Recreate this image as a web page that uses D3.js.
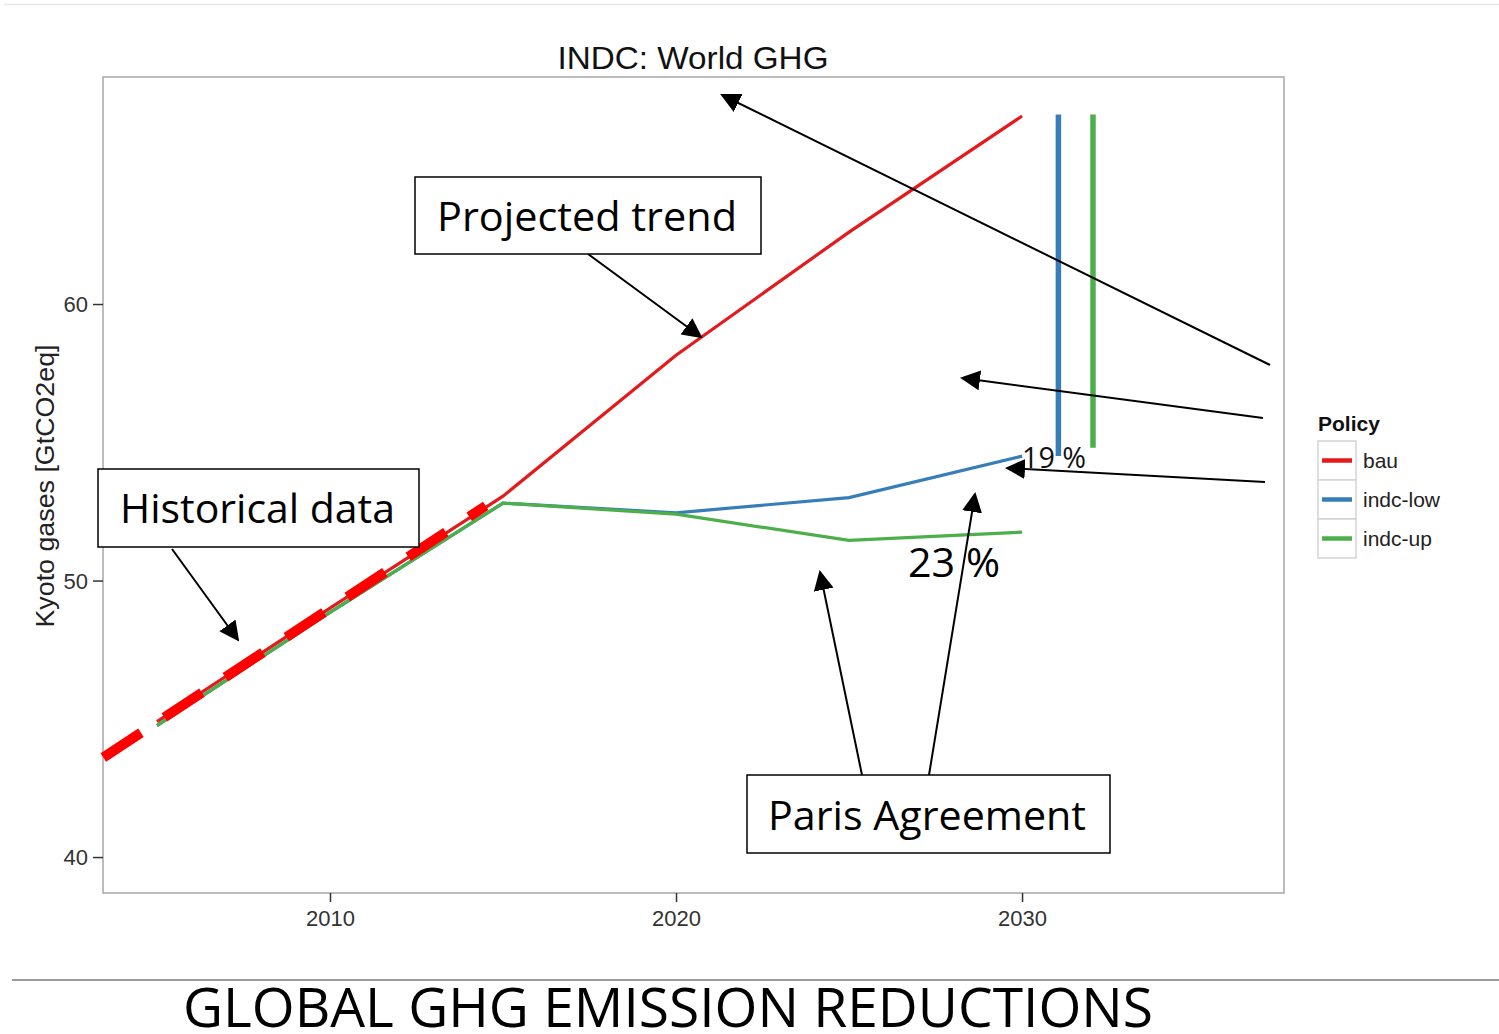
<!DOCTYPE html>
<html>
<head>
<meta charset="utf-8">
<script src="https://cdn.jsdelivr.net/npm/d3@7"></script>
<style>
  body { margin: 0; background: white; }
  svg { display: block; }
</style>
</head>
<body>
<script>
// chart values
var years = [2005, 2010, 2015, 2020, 2025, 2030];
var bau = [44.9, 49.0, 53.05, 58.15, 62.6, 66.8];
var indcLow = [44.75, 48.85, 52.8, 52.45, 53.0, 54.5];
var indcUp = [44.75, 48.85, 52.8, 52.4, 51.45, 51.75];

// the vertical range bars at the right
var rangeYears = [2031.05, 2032.05];
var rangeLow = [54.5, 54.8];
var rangeHigh = [66.85, 66.85];

// the hand-drawn dashed "historical" overlay
var histYears = [2003.45, 2014.5];
var histValues = [43.6, 52.7];

var xTicks = [2010, 2020, 2030];
var yTicks = [40, 50, 60];
var policies = ["bau", "indc-low", "indc-up"];
var colors = ["#E41A1C", "#377EB8", "#4DAF4A"];

var screen = {width: 1499, height: 1034};
var panel = {left: 103, right: 1284, top: 77, bottom: 893};

var svg = d3.select("body")
            .append("svg")
            .attr("width", screen.width)
            .attr("height", screen.height);

var x = d3.scaleLinear()
          .domain([2003.44, 2037.57])
          .range([panel.left, panel.right]);

var y = d3.scaleLinear()
          .domain([38.7, 68.21])
          .range([panel.bottom, panel.top]);

// top faint rule
svg.append("line")
   .attr("x1", 4).attr("x2", screen.width)
   .attr("y1", 4.5).attr("y2", 4.5)
   .attr("stroke", "#e6e6e6")
   .attr("stroke-width", 1.5);

// panel border
svg.append("rect")
   .attr("x", panel.left)
   .attr("y", panel.top)
   .attr("width", panel.right - panel.left)
   .attr("height", panel.bottom - panel.top)
   .attr("fill", "white")
   .attr("stroke", "#a6a6a6")
   .attr("stroke-width", 1.5);

// axes
var xAxis = d3.axisBottom(x).tickValues(xTicks).tickSize(9).tickFormat(d3.format("d"));
var yAxis = d3.axisLeft(y).tickValues(yTicks).tickSize(10);

var gx = svg.append("g")
            .attr("transform", "translate(0," + panel.bottom + ")")
            .call(xAxis);
var gy = svg.append("g")
            .attr("transform", "translate(" + panel.left + ",0)")
            .call(yAxis);

[gx, gy].forEach(function(g) {
  g.select(".domain").remove();
  g.selectAll(".tick line").attr("stroke", "#333").attr("stroke-width", 1.5);
  g.selectAll(".tick text")
   .attr("font-family", "Liberation Sans, Arial, sans-serif")
   .attr("font-size", 22)
   .attr("fill", "#333");
});
gx.selectAll(".tick text").attr("dy", "0.95em");
gy.selectAll(".tick text").attr("dy", "0.36em").attr("x", -15);

// title and y label
svg.append("text")
   .attr("x", 693).attr("y", 69)
   .attr("text-anchor", "middle")
   .attr("font-family", "Liberation Sans, Arial, sans-serif")
   .attr("font-size", 32)
   .attr("textLength", 271)
   .attr("lengthAdjust", "spacingAndGlyphs")
   .attr("fill", "#111")
   .text("INDC: World GHG");

svg.append("text")
   .attr("transform", "translate(54,486) rotate(-90)")
   .attr("text-anchor", "middle")
   .attr("font-family", "Liberation Sans, Arial, sans-serif")
   .attr("font-size", 26)
   .attr("textLength", 283)
   .attr("lengthAdjust", "spacingAndGlyphs")
   .attr("fill", "#222")
   .text("Kyoto gases [GtCO2eq]");

// series lines
var line = d3.line()
             .x(function(d) { return x(d[0]); })
             .y(function(d) { return y(d[1]); });

var series = [bau, indcLow, indcUp];
series.forEach(function(vals, i) {
  svg.append("path")
     .datum(years.map(function(yr, j) { return [yr, vals[j]]; }))
     .attr("d", line)
     .attr("fill", "none")
     .attr("stroke", colors[i])
     .attr("stroke-width", 3.2);
});

// range bars
rangeYears.forEach(function(yr, i) {
  svg.append("line")
     .attr("x1", x(yr)).attr("x2", x(yr))
     .attr("y1", y(rangeLow[i])).attr("y2", y(rangeHigh[i]))
     .attr("stroke", colors[i + 1])
     .attr("stroke-width", 5.5);
});

// dashed historical overlay
svg.append("path")
   .datum(histYears.map(function(yr, j) { return [yr, histValues[j]]; }))
   .attr("d", line)
   .attr("fill", "none")
   .attr("stroke", "#ff0000")
   .attr("stroke-width", 10)
   .attr("stroke-dasharray", "45,28");

// legend
var legend = svg.append("g").attr("transform", "translate(1318,441)");
legend.append("text")
      .attr("x", 0).attr("y", -10)
      .attr("font-family", "Liberation Sans, Arial, sans-serif")
      .attr("font-size", 21)
      .attr("font-weight", "bold")
      .attr("fill", "#111")
      .text("Policy");

policies.forEach(function(p, i) {
  var row = legend.append("g").attr("transform", "translate(0," + (i * 39) + ")");
  row.append("rect")
     .attr("x", 0).attr("y", 0)
     .attr("width", 38).attr("height", 39)
     .attr("fill", "white")
     .attr("stroke", "#d4d4d4")
     .attr("stroke-width", 1.5);
  row.append("line")
     .attr("x1", 4).attr("x2", 34)
     .attr("y1", 19.5).attr("y2", 19.5)
     .attr("stroke", colors[i])
     .attr("stroke-width", 4.5);
  row.append("text")
     .attr("x", 45).attr("y", 27)
     .attr("font-family", "Liberation Sans, Arial, sans-serif")
     .attr("font-size", 21)
     .attr("fill", "#222")
     .text(p);
});

// annotations (slide overlay)
var defs = svg.append("defs");
defs.append("marker")
    .attr("id", "arrow")
    .attr("viewBox", "0 0 10 10")
    .attr("refX", 9).attr("refY", 5)
    .attr("markerWidth", 20).attr("markerHeight", 20)
    .attr("markerUnits", "userSpaceOnUse")
    .attr("orient", "auto")
    .append("path")
    .attr("d", "M0,0 L10,5 L0,10 z")
    .attr("fill", "black");

var arrows = [
  [1270, 365, 722, 95],
  [1263, 418, 962, 378],
  [1265, 482, 1007, 468],
  [862, 775, 820, 572],
  [929, 775, 975, 494],
  [172, 549, 238, 640],
  [588, 254, 701, 337]
];
arrows.forEach(function(a) {
  svg.append("line")
     .attr("x1", a[0]).attr("y1", a[1])
     .attr("x2", a[2]).attr("y2", a[3])
     .attr("stroke", "black")
     .attr("stroke-width", 2)
     .attr("marker-end", "url(#arrow)");
});

var boxes = [
  {x: 415, y: 177, w: 346, h: 77, text: "Projected trend", tx: 437, ty: 231, tw: 300},
  {x: 98, y: 469, w: 321, h: 78, text: "Historical data", tx: 120, ty: 523, tw: 275},
  {x: 747, y: 775, w: 363, h: 78, text: "Paris Agreement", tx: 768, ty: 830, tw: 318}
];
boxes.forEach(function(b) {
  svg.append("rect")
     .attr("x", b.x).attr("y", b.y)
     .attr("width", b.w).attr("height", b.h)
     .attr("fill", "white")
     .attr("stroke", "black")
     .attr("stroke-width", 1.5);
  svg.append("text")
     .attr("x", b.tx).attr("y", b.ty)
     .attr("font-family", "Open Sans, sans-serif")
     .attr("font-size", 41)
     .attr("textLength", b.tw)
     .attr("lengthAdjust", "spacingAndGlyphs")
     .attr("fill", "black")
     .text(b.text);
});

svg.append("text")
   .attr("x", 908).attr("y", 577)
   .attr("font-family", "Open Sans, sans-serif")
   .attr("font-size", 41)
   .attr("textLength", 92)
   .attr("lengthAdjust", "spacingAndGlyphs")
   .text("23 %");

svg.append("text")
   .attr("x", 1022).attr("y", 468)
   .attr("font-family", "Open Sans, sans-serif")
   .attr("font-size", 30)
   .attr("textLength", 64)
   .attr("lengthAdjust", "spacingAndGlyphs")
   .attr("fill", "#111")
   .text("19 %");

// slide footer
svg.append("line")
   .attr("x1", 12).attr("x2", screen.width)
   .attr("y1", 980).attr("y2", 980)
   .attr("stroke", "#9a9a9a")
   .attr("stroke-width", 2);

svg.append("text")
   .attr("x", 183).attr("y", 1027)
   .attr("font-family", "Open Sans, sans-serif")
   .attr("font-size", 54)
   .attr("textLength", 970)
   .attr("lengthAdjust", "spacingAndGlyphs")
   .attr("fill", "black")
   .text("GLOBAL GHG EMISSION REDUCTIONS");
</script>
</body>
</html>
